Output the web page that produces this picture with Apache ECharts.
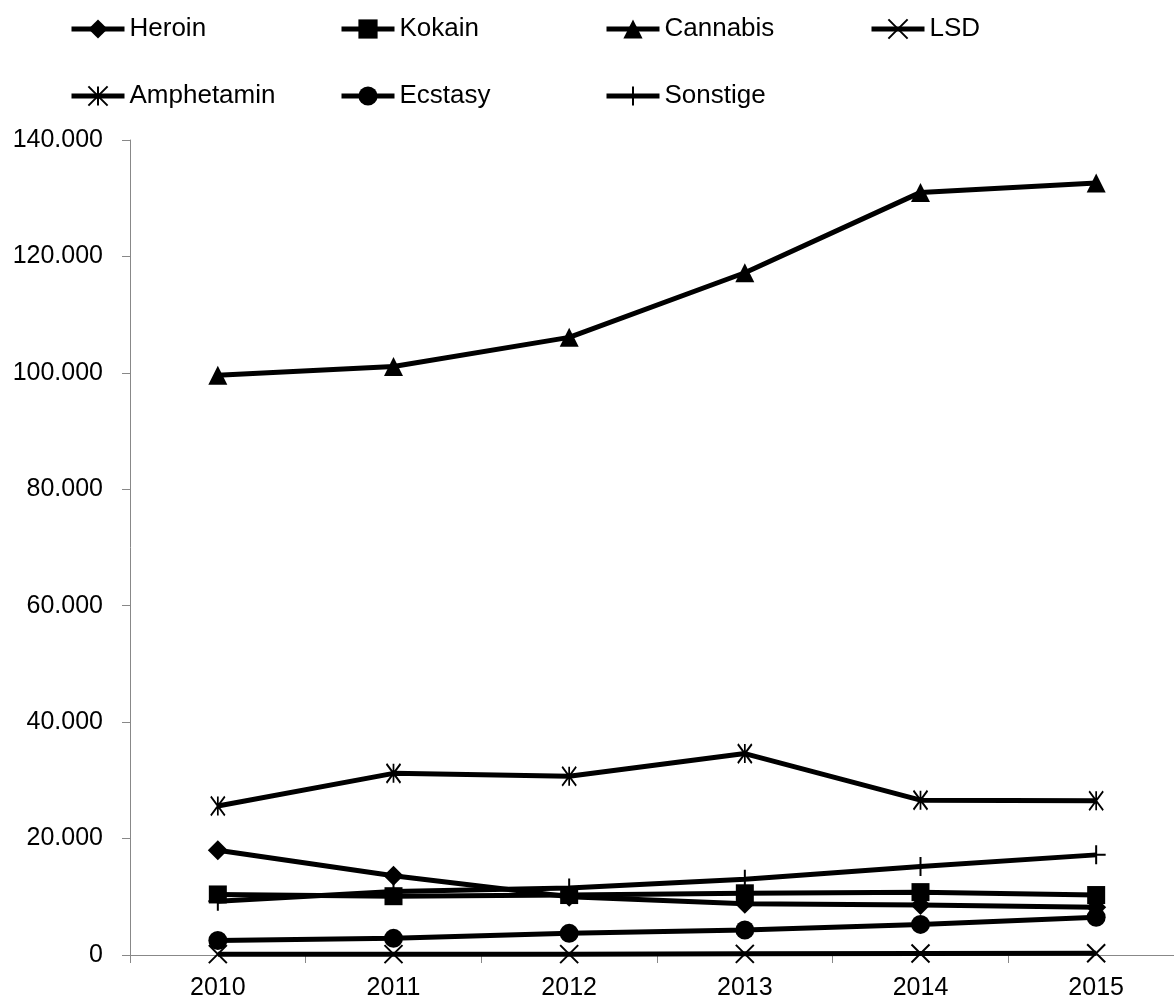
<!DOCTYPE html>
<html>
<head>
<meta charset="utf-8">
<script src="https://cdn.jsdelivr.net/npm/echarts@6/dist/echarts.min.js"></script>
<style>
html,body{margin:0;padding:0;background:#fff;}
#chart{width:1174px;height:999px;}
</style>
</head>
<body>
<div id="chart"></div>
<script>
const years = ['2010','2011','2012','2013','2014','2015'];
const heroin = [18000, 13600, 10000, 8800, 8600, 8200];
const kokain = [10400, 10100, 10300, 10600, 10800, 10300];
const cannabis = [99600, 101100, 106100, 117200, 131000, 132600];
const lsd = [150, 150, 150, 200, 250, 300];
const amphetamin = [25600, 31200, 30700, 34600, 26600, 26500];
const ecstasy = [2500, 2860, 3720, 4300, 5260, 6500];
const sonstige = [9250, 10900, 11500, 13000, 15200, 17200];

const FONT = '"Liberation Sans", Arial, sans-serif';
const fmt = v => {
  if (v === 0) return '0';
  const s = String(Math.round(v));
  return s.replace(/\B(?=(\d{3})+(?!\d))/g, '.');
};

const chart = echarts.init(document.getElementById('chart'), null, {renderer: 'canvas'});

function mk(name, data, symbol, size, stroke) {
  return {
    name, type: 'line', data,
    symbol, symbolSize: size,
    lineStyle: {color: '#000', width: 5},
    itemStyle: stroke ? {color: 'rgba(0,0,0,0)', borderColor: '#000', borderWidth: 2} : {color: '#000', borderWidth: 0},
    emphasis: {disabled: true},
    animation: false
  };
}

const series = [
  mk('Heroin', heroin, 'diamond', 20),
  mk('Kokain', kokain, 'rect', 18),
  mk('Cannabis', cannabis, 'triangle', 19),
  mk('LSD', lsd, 'path://M0,0L10,10M10,0L0,10', 18, true),
  mk('Amphetamin', amphetamin, 'path://M0,0L10,14M10,0L0,14M5,0L5,14', [14, 19], true),
  mk('Ecstasy', ecstasy, 'circle', 19),
  mk('Sonstige', sonstige, 'path://M0,5L10,5M5,0L5,10', 19, true)
];

const legPos = [
  ['Heroin', 69, 16], ['Kokain', 339, 16], ['Cannabis', 604, 16], ['LSD', 869, 16],
  ['Amphetamin', 69, 83], ['Ecstasy', 339, 83], ['Sonstige', 604, 83]
];
const legends = legPos.map(([n, l, t]) => ({
  data: [n], left: l, top: t, padding: 0, itemWidth: 53, itemHeight: 24,
  lineStyle: {width: 5, color: '#000'},
  textStyle: {fontFamily: FONT, fontSize: 26, color: '#000'},
  selectedMode: false
}));

chart.setOption({
  backgroundColor: '#fff',
  animation: false,
  legend: legends,
  grid: {left: 130, top: 140, width: 1054, height: 815, containLabel: false, outerBoundsMode: 'none'},
  xAxis: {
    type: 'category', data: years, boundaryGap: true,
    axisLine: {lineStyle: {color: '#888', width: 1}},
    axisTick: {show: true, length: 8, lineStyle: {color: '#888'}},
    axisLabel: {fontFamily: FONT, fontSize: 25, color: '#000', margin: 21},
    splitLine: {show: false}
  },
  yAxis: {
    type: 'value', min: 0, max: 140000, interval: 20000,
    axisLine: {show: true, lineStyle: {color: '#888', width: 1}},
    axisTick: {show: true, length: 8, lineStyle: {color: '#888'}},
    axisLabel: {fontFamily: FONT, fontSize: 25, color: '#000', margin: 27, formatter: fmt},
    splitLine: {show: false}
  },
  series
});
</script>
</body>
</html>
